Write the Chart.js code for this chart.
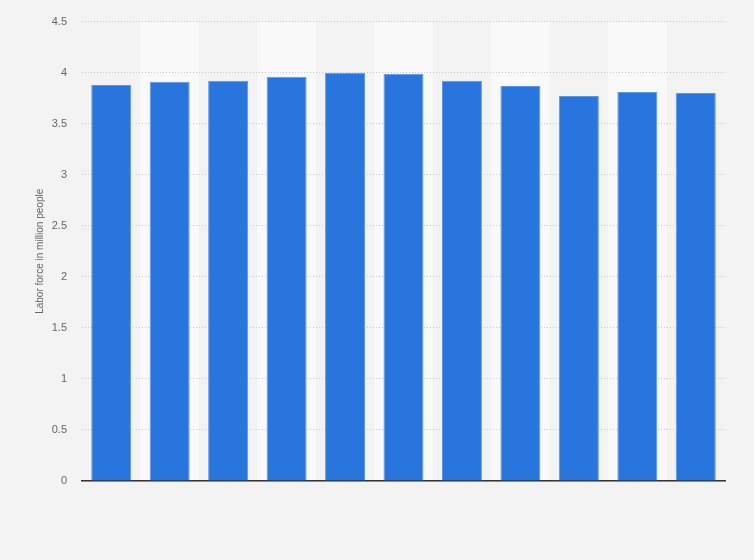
<!DOCTYPE html>
<html>
<head>
<meta charset="utf-8">
<script src="https://cdn.jsdelivr.net/npm/chart.js@4/dist/chart.umd.min.js"></script>
<style>
  html, body { margin: 0; padding: 0; background: #f3f3f3; }
  #wrap { width: 754px; height: 560px; }
</style>
</head>
<body>
<div id="wrap"><canvas id="c" width="754" height="560"></canvas></div>
<script>
const categories = ['', '', '', '', '', '', '', '', '', '', ''];
const laborForce = [3.88, 3.91, 3.92, 3.96, 4.00, 3.99, 3.92, 3.87, 3.77, 3.81, 3.80];
const yTicks = [0, 0.5, 1, 1.5, 2, 2.5, 3, 3.5, 4, 4.5];
const yTitle = 'Labor force in million people';

const bgPlugin = {
  id: 'bgBands',
  beforeDraw(chart) {
    const { ctx, chartArea, scales } = chart;
    ctx.save();
    ctx.fillStyle = '#f3f3f3';
    ctx.fillRect(0, 0, chart.width, chart.height);
    const xs = scales.x;
    const n = categories.length;
    const w = (chartArea.right - chartArea.left) / n;
    for (let i = 0; i < n; i++) {
      if (i % 2 === 1) {
        const cx = xs.getPixelForValue(i);
        ctx.fillStyle = '#f9f9f9';
        ctx.fillRect(cx - w / 2, chartArea.top, w, chartArea.bottom - chartArea.top);
      }
    }
    ctx.restore();
  }
};

new Chart(document.getElementById('c'), {
  type: 'bar',
  data: {
    labels: categories,
    datasets: [{
      data: laborForce,
      backgroundColor: '#2876dd',
      borderColor: '#5b97e8',
      borderWidth: { top: 1, left: 1, right: 1, bottom: 0 },
      barPercentage: 0.684,
      categoryPercentage: 1
    }]
  },
  options: {
    responsive: false,
    animation: false,
    devicePixelRatio: 1,
    layout: { padding: { top: 20, right: 29, bottom: 79, left: 0 } },
    plugins: { legend: { display: false }, tooltip: { enabled: false } },
    scales: {
      x: {
        grid: { display: false },
        ticks: { display: false },
        border: { display: true, color: '#333333', width: 1.5 },
        afterFit(scale) { scale.height = 0; }
      },
      y: {
        min: 0,
        max: 4.5,
        afterBuildTicks(scale) { scale.ticks = yTicks.map(v => ({ value: v })); },
        grid: { color: '#c8c8c8', lineWidth: 1, drawTicks: false },
        border: { display: false, dash: [1, 2] },
        ticks: {
          padding: 15,
          color: '#666666',
          font: { family: 'Liberation Sans, Arial, sans-serif', size: 11 },
          callback: (v) => String(v)
        },
        title: {
          display: true,
          text: yTitle,
          color: '#666666',
          font: { family: 'Liberation Sans, Arial, sans-serif', size: 10 },
          padding: { top: 34, bottom: 0 }
        },
        afterFit(scale) { scale.width = 82; }
      }
    }
  },
  plugins: [bgPlugin]
});
</script>
</body>
</html>
